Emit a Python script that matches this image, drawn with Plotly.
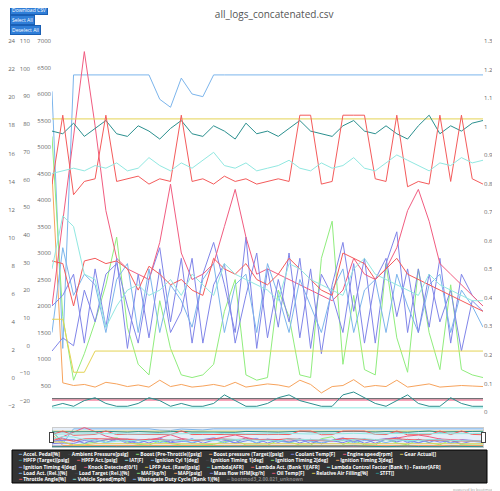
import plotly.graph_objects as go
import pandas as pd

t_ms = list(range(0, 2001, 50))
x = pd.to_datetime(t_ms, unit="ms")

colors = ["#7cb5ec", "#434348", "#90ed7d", "#f7a35c", "#8085e9",
          "#f15c80", "#e4d354", "#2b908f", "#f45b5b", "#91e8e1"]

names = ["Accel. Pedal[%]", "Ambient Pressure[psig]", "Boost (Pre-Throttle)[psig]",
         "Boost pressure (Target)[psig]", "Coolant Temp[F]", "Engine speed[rpm]", "Gear Actual[]",
         "HPFP (Target)[psig]", "HPFP Act.[psig]", "IAT[F]", "Ignition Cyl 1[deg]",
         "Ignition Timing 1[deg]", "Ignition Timing 2[deg]", "Ignition Timing 3[deg]",
         "Ignition Timing 4[deg]", "Knock Detected[0/1]", "LPFP Act. (Raw)[psig]", "Lambda[AFR]",
         "Lambda Act. (Bank 1)[AFR]", "Lambda Control Factor (Bank 1) - Faster[AFR]",
         "Load Act. (Rel.)[%]", "Load Target (Rel.)[%]", "MAF[kg/h]", "MAP[psig]",
         "Mass flow HFM[kg/h]", "Oil Temp[F]", "Relative Air Filling[%]", "STFT[]",
         "Throttle Angle[%]", "Vehicle Speed[mph]", "Wastegate Duty Cycle (Bank 1)[%]",
         "bootmod3_2.00.021_unknown"]
legend_rows = [list(range(0, 7)), list(range(7, 14)), list(range(14, 20)),
               list(range(20, 28)), list(range(28, 32))]

rpm_ticks = [500, 1000, 1500, 2000, 2500, 3000, 3500, 4000, 4500, 5000, 5500, 6000, 6500, 7000]

accel = [6050, 1200, 6360, 6360, 6360, 6360, 6360, 6360, 6360, 6360, 5900, 5750, 6300, 6000, 5950,
         6360, 6360, 6360, 6360, 6360, 6360, 6360, 6360, 6360, 6360, 6360, 6360, 6360, 6360, 6360,
         6360, 6360, 6360, 6360, 6360, 6360, 6360, 6360, 6360, 6360, 6360]
ambient = [250, 250, 250, 250, 250, 250, 250, 250, 250, 250, 250, 250, 250, 250, 250, 250, 250,
           250, 250, 250, 250, 250, 250, 250, 250, 250, 250, 250, 250, 250, 250, 250, 250, 250,
           250, 250, 250, 250, 250, 250, 250]
boost = [5200, 1800, 600, 1100, 1700, 2400, 3300, 1600, 900, 700, 2100, 1200, 700, 650, 700,
         900, 1900, 2500, 700, 600, 650, 2300, 1800, 700, 650, 2900, 3600, 900, 2200, 800,
         700, 2800, 1400, 750, 2700, 1500, 800, 2400, 800, 700, 650]
boost_t = [4500, 550, 500, 520, 470, 560, 530, 480, 510, 470, 600, 480, 520, 470, 490,
           520, 480, 560, 470, 500, 530, 510, 470, 600, 520, 360, 480, 500, 610, 470,
           500, 480, 600, 470, 500, 530, 470, 480, 500, 490, 480]
coolant = [1150, 1400, 1250, 2300, 1700, 2600, 2800, 2000, 1300, 2500, 3100, 1700, 2900, 1300,
           2600, 3200, 2400, 1500, 3300, 1200, 2700, 1600, 3000, 1400, 2700, 1100, 2400, 3200,
           1900, 2900, 1300, 2800, 3400, 1500, 2700, 1600, 2900, 1300, 2600, 2200, 2000]
rpm = [2000, 3600, 5200, 6800, 5400, 3800, 2900, 2700, 2600, 2500, 3200, 4300, 3000, 2500,
       2600, 2800, 3500, 4200, 3300, 2600, 2700, 2600, 2500, 2400, 2300, 2200, 2100, 2300,
       2900, 2600, 2500, 2700, 3100, 3800, 4200, 3600, 2800, 2600, 2400, 2200, 2000]
gear = [5530, 5530, 5530, 5530, 5530, 5530, 5530, 5530, 5530, 5530, 5530, 5530, 5530, 5530,
        5530, 5530, 5530, 5530, 5530, 5530, 5530, 5530, 5530, 5530, 5530, 5530, 5530, 5530,
        5530, 5530, 5530, 5530, 5530, 5530, 5530, 5530, 5530, 5530, 5530, 5530, 5530]
hpfp_t = [5300, 5250, 5450, 5200, 5350, 5500, 5250, 5200, 5400, 5300, 5150, 5350, 5500, 5250,
          5200, 5400, 5300, 5150, 5450, 5250, 5300, 5200, 5350, 5500, 5300, 5250, 5200, 5400,
          5500, 5300, 5250, 5400, 5250, 5150, 5400, 5600, 5250, 5400, 5300, 5450, 5500]
hpfp_a = [4300, 5600, 4100, 4350, 4400, 5600, 4350, 4400, 4450, 4300, 4400, 4350, 5600, 4350,
          4400, 4300, 4450, 4350, 4400, 4300, 4350, 4400, 4350, 5600, 5600, 4300, 4350, 5600,
          5600, 5600, 4400, 4350, 5600, 4250, 4350, 4300, 5600, 4350, 5600, 4400, 4300]
iat = [4500, 4550, 4600, 4550, 4650, 4600, 4700, 4550, 4600, 4800, 4650, 4550, 4700, 4600,
       4750, 4900, 4650, 4600, 4700, 4550, 4600, 4650, 4750, 4600, 4550, 4700, 4600, 4650,
       4800, 4600, 4550, 4700, 4850, 4750, 4650, 4550, 4700, 4650, 4800, 4700, 4750]
ign1 = [1500, 3100, 2200, 2600, 2400, 1500, 2500, 2800, 1500, 2700, 1500, 2400, 2100, 1600,
        2500, 2800, 1500, 2400, 2600, 1500, 2800, 2200, 1500, 2500, 2000, 1500, 2300, 2700,
        1500, 2300, 2500, 1500, 2600, 2000, 1500, 2400, 2600, 1500, 2300, 2000, 1600]
ign4 = [2000, 2200, 2600, 1300, 2700, 1600, 2900, 1200, 2600, 1400, 2700, 1500, 1900, 2900,
        1300, 2400, 2800, 1300, 2200, 3000, 1400, 2500, 1700, 2900, 1200, 2600, 2200, 1500,
        2800, 1300, 2500, 2900, 1800, 2700, 1500, 2600, 1700, 2300, 1150, 2100, 1900]
lambda_act = [2850, 2800, 2000, 2850, 2900, 2800, 2850, 2700, 2300, 2750, 2600, 2400, 2500,
              2300, 2200, 2900, 2700, 2600, 2800, 2500, 2400, 2600, 2900, 2700, 2500, 2300,
              2200, 3000, 2900, 2800, 2500, 2700, 2900, 2600, 2500, 2400, 2300, 2200, 2100,
              2000, 1900]
lcf = [2700, 3700, 3500, 2600, 2500, 1600, 2000, 2300, 2400, 2200, 2300, 2500, 2200, 2600,
       2400, 2200, 2800, 2600, 2500, 2400, 2300, 2100, 2800, 2700, 2500, 2400, 2300, 2200,
       2700, 2900, 2600, 2500, 2400, 2300, 2200, 2600, 2400, 2300, 2200, 2100, 2100]
lpfp = [1750, 1750, 750, 750, 1150, 1150, 1150, 1150, 1150, 1150, 1150, 1150, 1150, 1150,
        1150, 1150, 1150, 1150, 1150, 1150, 1150, 1150, 1150, 1150, 1150, 1150, 1150, 1150,
        1150, 1150, 1150, 1150, 1150, 1150, 1150, 1150, 1150, 1150, 1150, 1150, 1150]
knock = [-1.55, -1.55, -1.55, -1.55, -1.55, -1.55, -1.55, -1.55, -1.55, -1.55, -1.55, -1.55,
         -1.55, -1.55, -1.55, -1.55, -1.55, -1.55, -1.55, -1.55, -1.55, -1.55, -1.55, -1.55,
         -1.55, -1.55, -1.55, -1.55, -1.55, -1.55, -1.55, -1.55, -1.55, -1.55, -1.55, -1.55,
         -1.55, -1.55, -1.55, -1.55, -1.55]
vspeed = [-22.5, -22.5, -22.5, -22.5, -22.5, -22.5, -22.5, -22.5, -22.5, -22.5, -22.5, -22.5,
          -22.5, -22.5, -22.5, -22.5, -22.5, -22.5, -22.5, -22.5, -22.5, -22.5, -22.5, -22.5,
          -22.5, -22.5, -22.5, -22.5, -22.5, -22.5, -22.5, -22.5, -22.5, -22.5, -22.5, -22.5,
          -22.5, -22.5, -22.5, -22.5, -22.5]
stft = [0.02, 0.03, 0.02, 0.04, 0.05, 0.03, 0.02, 0.02, 0.03, 0.05, 0.04, 0.02, 0.03, 0.02,
        0.02, 0.03, 0.06, 0.04, 0.02, 0.02, 0.03, 0.05, 0.06, 0.04, 0.03, 0.02, 0.02, 0.06,
        0.07, 0.05, 0.03, 0.02, 0.04, 0.06, 0.03, 0.02, 0.02, 0.05, 0.03, 0.02, 0.02]
slider_labels = ["1. Jan", "00:00:00.500", "00:00:01.000", "00:00:01.500"]
slider_ms = [0, 500, 1000, 1500]

series = {
    0: (accel, "y"), 1: (ambient, "y"), 2: (boost, "y"), 3: (boost_t, "y"), 4: (coolant, "y"),
    5: (rpm, "y"), 6: (gear, "y"), 7: (hpfp_t, "y"), 8: (hpfp_a, "y"), 9: (iat, "y"),
    10: (ign1, "y"), 14: (ign4, "y"), 15: (knock, "y3"), 16: (lpfp, "y"),
    18: (lambda_act, "y"), 19: (lcf, "y"), 27: (stft, "y4"), 29: (vspeed, "y2"),
}

fig = go.Figure()
for i, n in enumerate(names):
    c = colors[i % 10]
    vals, ax = series.get(i, ([], "y"))
    fig.add_trace(go.Scatter(x=x if vals else [], y=vals, name=n, yaxis=ax, mode="lines",
                             line=dict(color=c, width=1), showlegend=False))

OFF = 8
W, H = 492, 483
ML, MR, MT, MB = 0, 17, 33, 79
pw = W - ML - MR
ph = H - MT - MB

def px_x(p):
    return (p - OFF - ML) / pw

def px_y(p):
    return (H - MB - (p - OFF)) / ph

tick_font = dict(size=6, color="#666")
shapes, annotations = [], []

shapes.append(dict(type="rect", xref="paper", yref="paper", x0=px_x(12), x1=px_x(487),
                   y0=px_y(483), y1=px_y(450), fillcolor="#333333",
                   line=dict(color="#000", width=1), layer="above"))
gap = "&nbsp;&nbsp;&nbsp;&nbsp;&nbsp;&nbsp;"
rows_txt = []
for row in legend_rows:
    parts = []
    for i in row:
        c = colors[i % 10] if i != 31 else "#666"
        tc = "white" if i != 31 else "#888"
        parts.append(f"<span style='color:{c}'>━</span> <span style='color:{tc}'><b>{names[i]}</b></span>")
    rows_txt.append(gap.join(parts))
annotations.append(dict(text="<br>".join(rows_txt), x=px_x(16), y=px_y(466.5),
                        xref="paper", yref="paper", showarrow=False, align="left",
                        font=dict(size=4.9, color="white"), xanchor="left", yanchor="middle"))

for lbl, yp in zip(["Download CSV", "Select All", "Deselect All"], [10, 20, 30]):
    annotations.append(dict(text=lbl, x=0.004, y=px_y(yp), xref="paper", yref="paper",
                            xanchor="left", yanchor="middle", showarrow=False,
                            bgcolor="#2f7ed8", bordercolor="#1a5fb4", borderwidth=1, borderpad=1,
                            font=dict(size=5, color="white")))

for lbl, ms in zip(slider_labels, slider_ms):
    annotations.append(dict(text=lbl, x=pd.Timestamp(ms, unit="ms"), xref="x", y=px_y(440),
                            yref="paper", xanchor="left", showarrow=False,
                            font=dict(size=5, color="#888")))

annotations.append(dict(text="powered by bootmod3", x=px_x(498), y=px_y(489), xref="paper",
                        yref="paper", xanchor="right", yanchor="middle", showarrow=False,
                        font=dict(size=4, color="#999")))

fig.update_layout(
    width=W, height=H,
    margin=dict(l=ML, r=MR, t=MT, b=MB, autoexpand=False),
    paper_bgcolor="white", plot_bgcolor="white",
    title=dict(text="all_logs_concatenated.csv", x=px_x(265), xanchor="center",
               y=1 - 3 / H, yanchor="top", font=dict(size=10, color="#555")),
    showlegend=False,
    xaxis=dict(domain=[px_x(52), 1], showgrid=False, type="date", showticklabels=False,
               automargin=False, range=[x[0], x[-1]],
               rangeslider=dict(visible=True, thickness=0.055, bgcolor="#e6eef9",
                                bordercolor="#ccc", borderwidth=1)),
    yaxis=dict(range=[0, 7000], tickvals=rpm_ticks, showgrid=False, zeroline=False,
               tickfont=tick_font, automargin=False),
    yaxis2=dict(range=[-24, 110], dtick=10, overlaying="y", anchor="free", position=px_x(30),
                showgrid=False, zeroline=False, tickfont=tick_font, automargin=False),
    yaxis3=dict(range=[-2.4, 24], dtick=2, overlaying="y", anchor="free", position=max(px_x(15), 0),
                showgrid=False, zeroline=False, tickfont=tick_font, automargin=False),
    yaxis4=dict(range=[0, 1.3], dtick=0.1, overlaying="y", side="right", showgrid=False,
                zeroline=False, tickfont=tick_font, automargin=False),
    shapes=shapes, annotations=annotations,
)
fig.write_html("out.html")
